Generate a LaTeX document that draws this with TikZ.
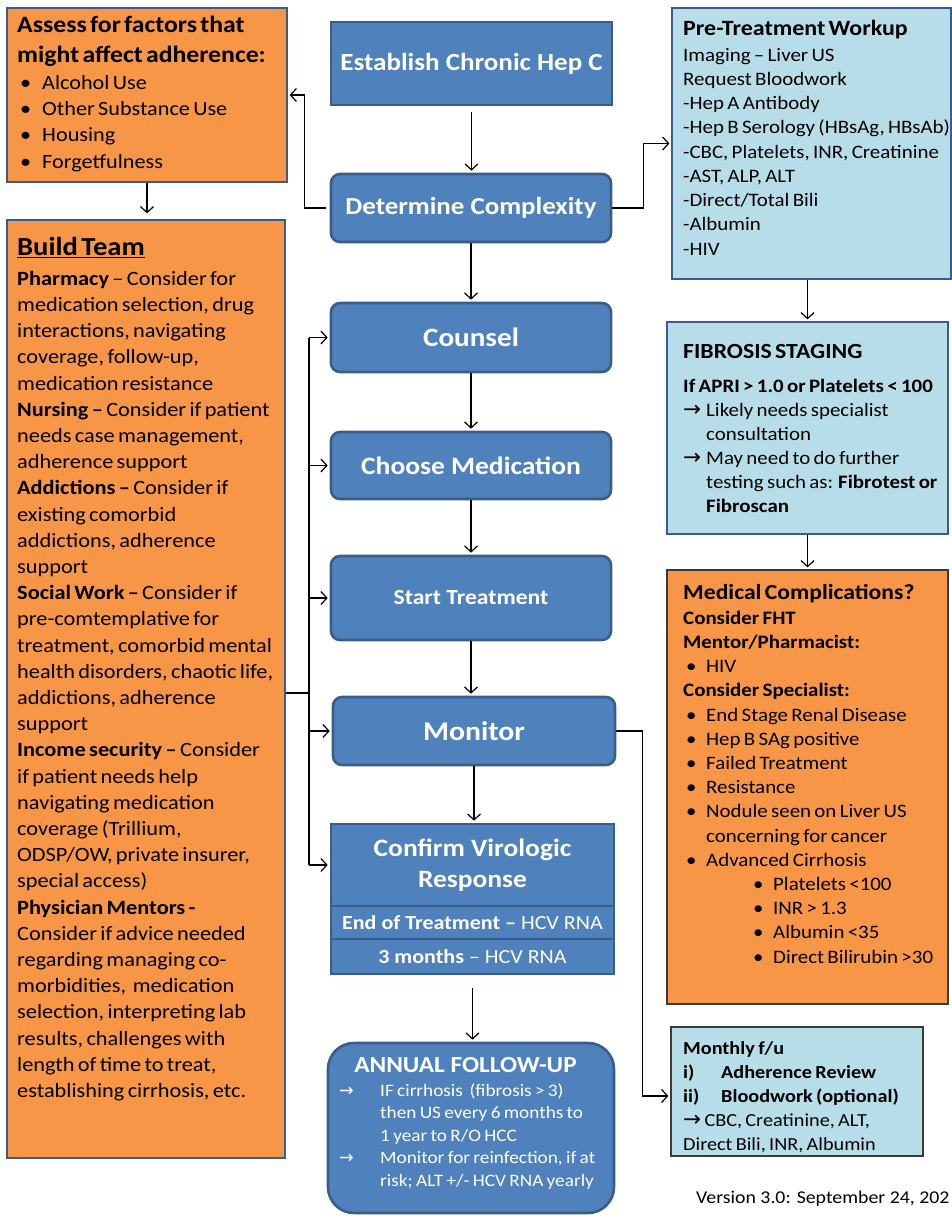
\documentclass[tikz,border=0pt]{standalone}
\usepackage{fontspec}
\setmainfont{Carlito}[FakeStretch=1.1]
\newfontfamily\djv{DejaVu Sans}
\usetikzlibrary{arrows.meta,calc}
\definecolor{orng}{HTML}{F79646}
\definecolor{blu}{HTML}{4F81BD}
\definecolor{dblu}{HTML}{385D8A}
\definecolor{lblu}{HTML}{B7DEE8}
\definecolor{gbord}{HTML}{3A3A3A}
\newcommand{\fl}{\rule{0pt}{20pt}}
\newcommand{\bul}[1]{\makebox[#1][l]{\textbullet}}
\newcommand{\rar}{{\djv →}}
\newcommand{\rarb}{{\djv\fontsize{21.5}{24}\selectfont →}}
\begin{document}
\begin{tikzpicture}[x=1pt,y=-1pt,
  obox/.style={draw=dblu,fill=orng,line width=1.2pt,inner sep=0pt},
  obox2/.style={draw=gbord,fill=orng,line width=1.2pt,inner sep=0pt},
  lbox/.style={draw=dblu,fill=lblu,line width=1.2pt,inner sep=0pt},
  lbox2/.style={draw=gbord,fill=lblu,line width=1.2pt,inner sep=0pt},
  flow/.style={draw=dblu,fill=blu,line width=2.6pt,rounded corners=9pt,text=white,font=\bfseries,inner sep=0pt,align=center},
  sq/.style={flow,rounded corners=0pt},
  txt/.style={anchor=north west,inner sep=0pt,align=left,text width=#1},
  conn/.style={-{Straight Barb[length=6pt,width=13pt]},line width=1.2pt,shorten >=2pt},
  plain/.style={line width=1.2pt}
]
\useasboundingbox (0,0) rectangle (952,1220);

% ---------- left column ----------
\node[obox,minimum width=280pt,minimum height=174pt] (assess) at (147,95) {};
\node[txt=270pt] (assesst) at (17,12.3) {{\fontsize{23.4}{30.4}\selectfont\bfseries\fl Assess for factors that\\ might affect adherence:\par}
\fontsize{20.2}{26.3}\selectfont\hspace*{3pt}\bul{22pt}Alcohol Use\\
\hspace*{3pt}\bul{22pt}Other Substance Use\\
\hspace*{3pt}\bul{22pt}Housing\\
\hspace*{3pt}\bul{22pt}Forgetfulness\par};

\node[obox,minimum width=278pt,minimum height=938pt] (build) at (146,689) {};
\node[txt=272pt] (buildt) at (17,235) {{\fontsize{26}{28}\selectfont\bfseries\fl\underline{Build Team}\par}\vspace{3.8pt}
\fontsize{20.3}{26.2}\selectfont
\textbf{Pharmacy} – Consider for\\
medication selection, drug\\
interactions, navigating\\
coverage, follow-up,\\
medication resistance\\
\textbf{Nursing –} Consider if patient\\
needs case management,\\
adherence support\\
\textbf{Addictions –} Consider if\\
existing comorbid\\
addictions, adherence\\
support\\
\textbf{Social Work –} Consider if\\
pre-comtemplative for\\
treatment, comorbid mental\\
health disorders, chaotic life,\\
addictions, adherence\\
support\\
\textbf{Income security –} Consider\\
if patient needs help\\
navigating medication\\
coverage (Trillium,\\
ODSP/OW, private insurer,\\
special access)\\
\textbf{Physician Mentors -}\\
Consider if advice needed\\
regarding managing co-\\
morbidities,\ \ medication\\
selection, interpreting lab\\
results, challenges with\\
length of time to treat,\\
establishing cirrhosis, etc.\par};

% ---------- center column ----------
\node[sq,minimum width=281pt,minimum height=83pt,font=\bfseries\fontsize{24.6}{28}\selectfont] (est) at (471.5,63.5) {Establish Chronic Hep C};
\node[flow,minimum width=280pt,minimum height=68pt,font=\bfseries\fontsize{24.5}{28}\selectfont] (det) at (471,208) {Determine Complexity};
\node[flow,minimum width=280pt,minimum height=69pt,font=\bfseries\fontsize{26.5}{30}\selectfont] (cou) at (471,337.5) {Counsel};
\node[flow,minimum width=280pt,minimum height=67pt,font=\bfseries\fontsize{25}{30}\selectfont] (cho) at (471,465.5) {Choose Medication};
\node[flow,minimum width=280pt,minimum height=84pt,font=\bfseries\fontsize{21.5}{26}\selectfont] (sta) at (471,598) {Start Treatment};
\node[flow,minimum width=282pt,minimum height=68pt,font=\bfseries\fontsize{27}{32}\selectfont] (mon) at (474,731) {Monitor};
\node[sq,minimum width=283pt,minimum height=82pt,font=\bfseries\fontsize{25}{31}\selectfont] (conft) at (472.5,865) {Confirm Virologic\\Response};
\node[sq,minimum width=283pt,minimum height=33pt,font=\bfseries\fontsize{20}{24}\selectfont] (eot) at (472.5,922.5) {End of Treatment – {\mdseries HCV RNA}};
\node[sq,minimum width=283pt,minimum height=35pt,font=\bfseries\fontsize{20}{24}\selectfont] (thr) at (472.5,956.5) {3 months {\mdseries – HCV RNA}};
\node[flow,rounded corners=26pt,minimum width=286pt,minimum height=170pt] (ann) at (471,1128) {};
\node[anchor=base,inner sep=0pt,text=white,font=\bfseries\fontsize{23}{27}\selectfont] (annt) at (465.5,1072) {ANNUAL FOLLOW-UP};
\node[txt=290pt,text=white] (annb) at (339,1076) {\fontsize{17.5}{22.5}\selectfont
\makebox[41pt][l]{\fl\rar}IF cirrhosis\ \ (fibrosis > 3)\\
\hspace*{41pt}then US every 6 months to\\
\hspace*{41pt}1 year to R/O HCC\\
\makebox[41pt][l]{\rar}Monitor for reinfection, if at\\
\hspace*{41pt}risk; ALT +/- HCV RNA yearly\par};

% ---------- right column ----------
\node[lbox,minimum width=279pt,minimum height=271pt] (pre) at (811.5,143.5) {};
\node[txt=270pt] (pret) at (683,15) {{\fontsize{21.8}{24}\selectfont\bfseries\fl Pre-Treatment Workup\par}\vspace{1.75pt}
\fontsize{19}{24.25}\selectfont
Imaging – Liver US\\
Request Bloodwork\\
-Hep A Antibody\\
-Hep B Serology (HBsAg, HBsAb)\\
-CBC, Platelets, INR, Creatinine\\
-AST, ALP, ALT\\
-Direct/Total Bili\\
-Albumin\\
-HIV\par};

\node[lbox,minimum width=281pt,minimum height=212pt] (fib) at (807.5,428) {};
\node[txt=270pt] (fibt) at (683,338) {{\fontsize{21.6}{24}\selectfont\bfseries\fl FIBROSIS STAGING\par}\vspace{10pt}
\fontsize{19}{24}\selectfont
\textbf{If APRI > 1.0 or Platelets < 100}\\
\makebox[23pt][l]{\rarb}Likely needs specialist\\
\hspace*{23pt}consultation\\
\makebox[23pt][l]{\rarb}May need to do further\\
\hspace*{23pt}testing such as: \textbf{Fibrotest or}\\
\hspace*{23pt}\textbf{Fibroscan}\par};

\node[obox2,minimum width=281pt,minimum height=434pt] (med) at (807.5,787) {};
\node[txt=270pt] (medt) at (683,579) {{\fontsize{21.5}{24}\selectfont\bfseries\fl Medical Complications?\par}\vspace{0.9pt}
\fontsize{19}{24.2}\selectfont
\textbf{Consider FHT}\\
\textbf{Mentor/Pharmacist:}\\
\hspace*{3pt}\bul{20pt}HIV\\
\textbf{Consider Specialist:}\\
\hspace*{3pt}\bul{20pt}End Stage Renal Disease\\
\hspace*{3pt}\bul{20pt}Hep B SAg positive\\
\hspace*{3pt}\bul{20pt}Failed Treatment\\
\hspace*{3pt}\bul{20pt}Resistance\\
\hspace*{3pt}\bul{20pt}Nodule seen on Liver US\\
\hspace*{23pt}concerning for cancer\\
\hspace*{3pt}\bul{20pt}Advanced Cirrhosis\\
\hspace*{70pt}\bul{20pt}Platelets <100\\
\hspace*{70pt}\bul{20pt}INR > 1.3\\
\hspace*{70pt}\bul{20pt}Albumin <35\\
\hspace*{70pt}\bul{20pt}Direct Bilirubin >30\par};

\node[lbox2,minimum width=252pt,minimum height=129pt] (mth) at (797,1091.5) {};
\node[txt=245pt] (mtht) at (683,1034) {\fontsize{18.4}{24}\selectfont
\textbf{\fl Monthly f/u}\\
\textbf{\makebox[38pt][l]{i)}Adherence Review}\\
\textbf{\makebox[38pt][l]{ii)}Bloodwork (optional)}\\
\rarb\ CBC, Creatinine, ALT,\\
Direct Bili, INR, Albumin\par};

\node[anchor=base west,inner sep=0pt,font=\fontsize{18}{22}\selectfont] (ver) at (696,1203) {Version 3.0: September 24, 202};

% ---------- connectors ----------
\draw[conn,shorten <=6pt] (est.south) -- (est.south |- det.north);
\draw[conn] (det.west) ++(-4,0) -- ++(-21,0) |- (assess.east);
\draw[conn] (det.east) -- ++(31,0) |- (pre.west);
\draw[conn,shorten >=6pt] (assess.south) -- (assess.south |- build.north);
\draw[conn] (det.south) -- (det.south |- cou.north);
\draw[conn] (cou.south) -- (cou.south |- cho.north);
\draw[conn] (cho.south) -- (cho.south |- sta.north);
\draw[conn] (sta.south) -- (sta.south |- mon.north);
\draw[conn] (mon.south) -- (mon.south |- conft.north);
\draw[conn,shorten <=13pt] (thr.south) -- (thr.south |- ann.north);
\draw[conn] (fib.north |- pre.south) -- (fib.north);
\draw[conn] (fib.south) -- (med.north);
\draw[conn] (mon.east) -- ++(26,0) |- ($(mth.west)+(0,4.5)$);

\coordinate (bus) at (309,693);
\draw[line width=2pt] ($(build.east)+(0,4)$) -- (bus);
\draw[plain] (bus |- cou.west) -- (bus |- conft.west);
\draw[conn] (bus |- cou.west) -- (cou.west);
\draw[conn] (bus |- cho.west) -- (cho.west);
\draw[conn] (bus |- sta.west) -- (sta.west);
\draw[conn] (bus |- mon.west) -- (mon.west);
\draw[conn] (bus |- conft.west) -- (conft.west);
\end{tikzpicture}
\end{document}
